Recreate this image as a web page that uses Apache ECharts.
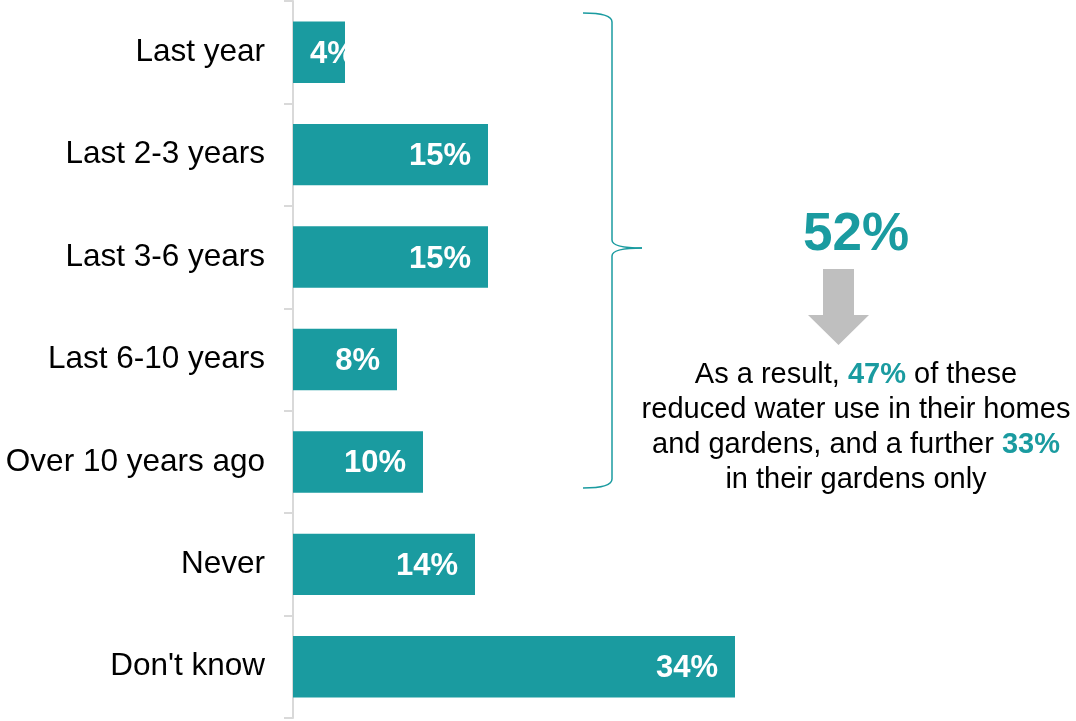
<!DOCTYPE html>
<html>
<head>
<meta charset="utf-8">
<script src="https://cdn.jsdelivr.net/npm/echarts@6/dist/echarts.min.js"></script>
<style>
html,body{margin:0;padding:0;background:#fff;}
#chart{width:1076px;height:721px;}
</style>
</head>
<body>
<div id="chart"></div>
<script>
const categories = ['Last year', 'Last 2-3 years', 'Last 3-6 years', 'Last 6-10 years', 'Over 10 years ago', 'Never', "Don't know"];
const values = [4, 15, 15, 8, 10, 14, 34];
const summaryValue = '52%';
const noteLines = [
  'As a result, {b|47%} of these',
  'reduced water use in their homes',
  'and gardens, and a further {b|33%}',
  'in their gardens only'
];

const TEAL = '#1a9ba0';
const FONT = '"Liberation Sans", Arial, sans-serif';

const chart = echarts.init(document.getElementById('chart'), null, {renderer: 'canvas'});

const seriesData = values.map(function (v) {
  const item = {value: v};
  if (v < 5) {
    item.label = {position: 'insideLeft', distance: 17};
  }
  return item;
});

const braceStyle = {stroke: TEAL, lineWidth: 1.5, fill: null};
function curve(x1, y1, cx, cy, x2, y2) {
  return {type: 'bezierCurve', shape: {x1: x1, y1: y1, cpx1: cx, cpy1: cy, x2: x2, y2: y2}, style: braceStyle, silent: true};
}
function seg(x1, y1, x2, y2) {
  return {type: 'line', shape: {x1: x1, y1: y1, x2: x2, y2: y2}, style: braceStyle, silent: true};
}

chart.setOption({
  animation: false,
  backgroundColor: '#ffffff',
  grid: {left: 293, right: 3, top: 1, bottom: 3, containLabel: false},
  xAxis: {
    type: 'value', min: 0, max: 60, show: false
  },
  yAxis: {
    type: 'category',
    inverse: true,
    data: categories,
    axisLine: {show: true, lineStyle: {color: '#d9d9d9', width: 2}},
    axisTick: {show: true, length: 9, lineStyle: {color: '#d9d9d9', width: 2}},
    axisLabel: {
      margin: 28, color: '#000000', fontSize: 31.5, fontFamily: FONT,
      padding: [4, 0, 0, 0]
    },
    splitLine: {show: false}
  },
  series: [{
    type: 'bar',
    data: seriesData,
    barCategoryGap: '40%',
    itemStyle: {color: TEAL},
    label: {
      show: true,
      position: 'insideRight',
      distance: 17,
      offset: [0, 2],
      formatter: '{c}%',
      color: '#ffffff',
      fontSize: 31,
      fontWeight: 'bold',
      fontFamily: FONT
    }
  }],
  graphic: [
    curve(583, 13, 612, 13, 612, 22),
    seg(612, 22, 612, 240),
    curve(612, 240, 612, 248, 642, 248),
    curve(642, 248, 612, 248, 612, 256),
    seg(612, 256, 612, 479),
    curve(612, 479, 612, 488, 583, 488),
    {
      type: 'text',
      x: 856, y: 235,
      style: {
        text: summaryValue,
        fontSize: 53, fontWeight: 'bold', fontFamily: FONT,
        fill: TEAL, align: 'center', verticalAlign: 'middle'
      }
    },
    {
      type: 'polygon',
      shape: {points: [[823,269],[854,269],[854,315],[869,315],[838.5,345],[808,315],[823,315]]},
      style: {fill: '#bfbfbf'}
    },
    {
      type: 'text',
      x: 856, y: 427,
      style: {
        text: noteLines.join('\n'),
        fontSize: 29, fontFamily: FONT, fill: '#000000',
        lineHeight: 35,
        align: 'center', verticalAlign: 'middle',
        rich: {
          b: {fontSize: 29, fontWeight: 'bold', fill: TEAL, fontFamily: FONT, lineHeight: 35}
        }
      }
    }
  ]
});
</script>
</body>
</html>
